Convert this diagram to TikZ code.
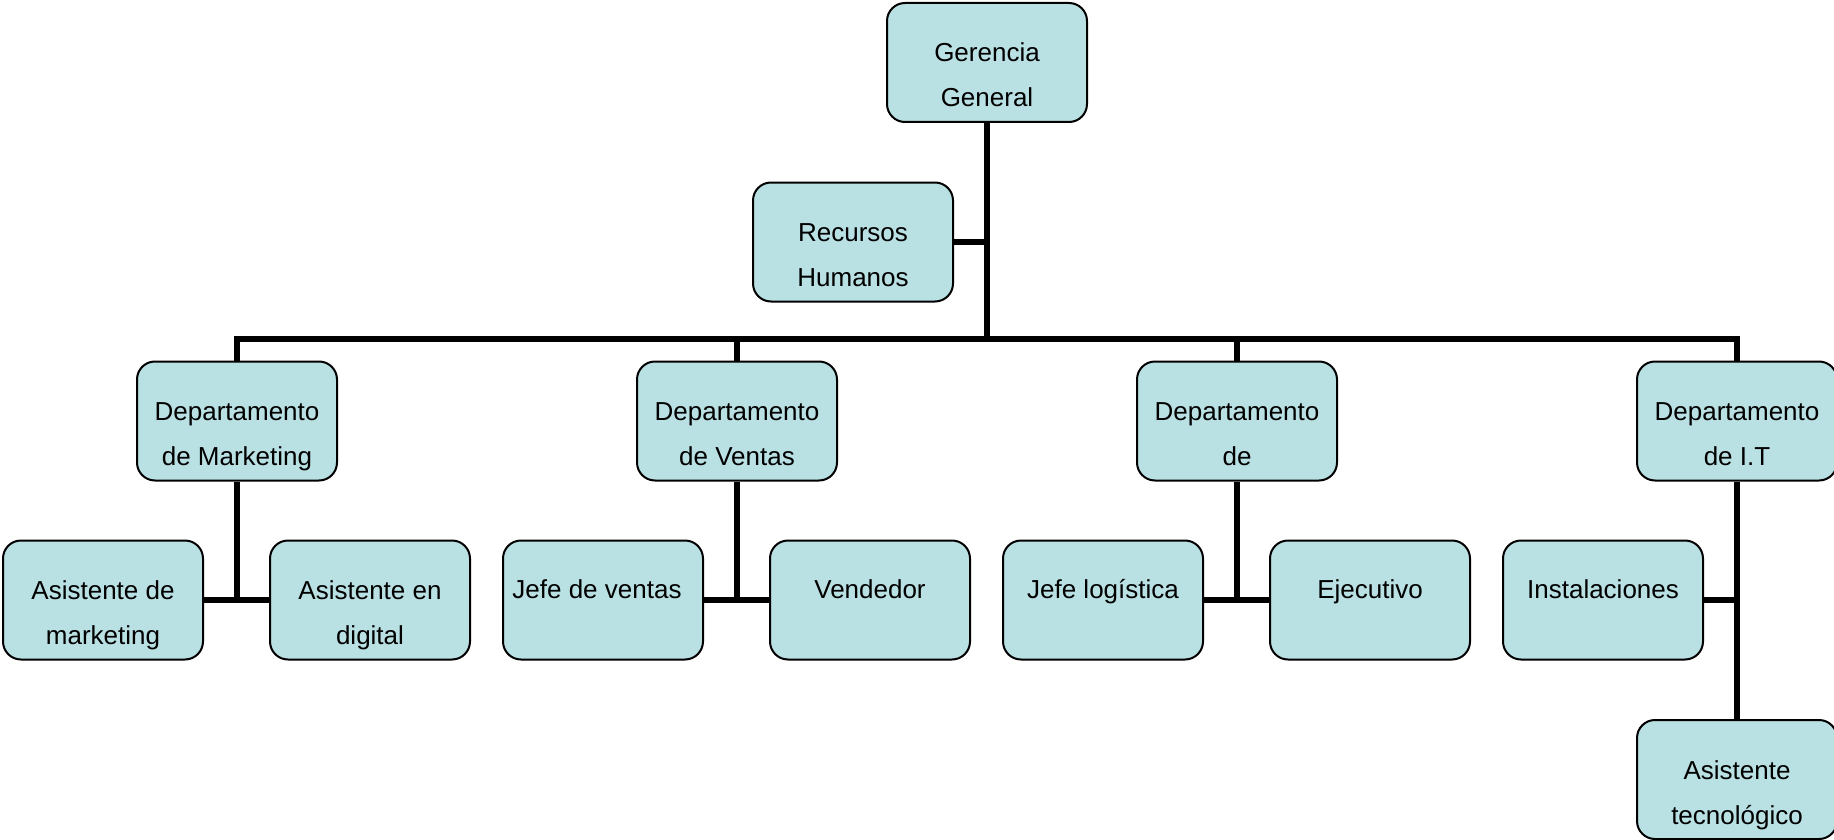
\documentclass[tikz,border=0pt]{standalone}
\usepackage{fontspec}
\setmainfont{Liberation Sans}
\definecolor{boxfill}{RGB}{185,224,227}
\tikzset{
  orgbox/.style={draw=black, line width=2pt, fill=boxfill, rounded corners=18pt,
    minimum width=200pt, minimum height=119pt, inner sep=0pt,
    text height=25pt, text depth=28pt, align=center,
    font=\fontsize{26}{45}\selectfont},
  twoline/.style={text height=89pt, text depth=0pt},
  conn/.style={draw=black, line width=5.5pt}
}
\begin{document}
\begin{tikzpicture}[x=1pt,y=-1pt]
\useasboundingbox (0,0) rectangle (1834,840);
% nodes
\node[orgbox,twoline] (gg) at (987,62.5) {Gerencia\\General};
\node[orgbox,twoline] (rh) at (853,242) {Recursos\\Humanos};
\node[orgbox,twoline] (dm) at (237,421) {Departamento\\de Marketing};
\node[orgbox,twoline] (dv) at (737,421) {Departamento\\de Ventas};
\node[orgbox,twoline] (dl) at (1237,421) {Departamento\\de};
\node[orgbox,twoline] (di) at (1737,421) {Departamento\\de I.T};
\node[orgbox,twoline] (am) at (103,600) {Asistente de\\marketing};
\node[orgbox,twoline] (ad) at (370,600) {Asistente en\\digital};
\node[orgbox] (jv) at (603,600) {Jefe de ventas\hspace*{12pt}};
\node[orgbox] (ve) at (870,600) {Vendedor};
\node[orgbox] (jl) at (1103,600) {Jefe log\'istica};
\node[orgbox] (ej) at (1370,600) {Ejecutivo};
\node[orgbox] (in) at (1603,600) {Instalaciones};
\node[orgbox,twoline] (at) at (1737,779.5) {Asistente\\tecnol\'ogico};
% junction coordinates
\coordinate (bus) at (987,339);
\coordinate (rhj) at (987,242);
\coordinate (mj) at (237,600);
\coordinate (vj) at (737,600);
\coordinate (lj) at (1237,600);
\coordinate (ij) at (1737,600);
% connectors
\draw[conn] (gg.south) -- (bus);
\draw[conn] (rh.east) -- (rhj);
\draw[conn] (dm.north) |- (bus) -| (di.north);
\draw[conn] (bus) -| (dv.north);
\draw[conn] (bus) -| (dl.north);
\draw[conn] (dm.south) -- (mj);
\draw[conn] (am.east) -- (ad.west);
\draw[conn] (dv.south) -- (vj);
\draw[conn] (jv.east) -- (ve.west);
\draw[conn] (dl.south) -- (lj);
\draw[conn] (jl.east) -- (ej.west);
\draw[conn] (di.south) -- (at.north);
\draw[conn] (in.east) -- (ij);
\end{tikzpicture}
\end{document}
